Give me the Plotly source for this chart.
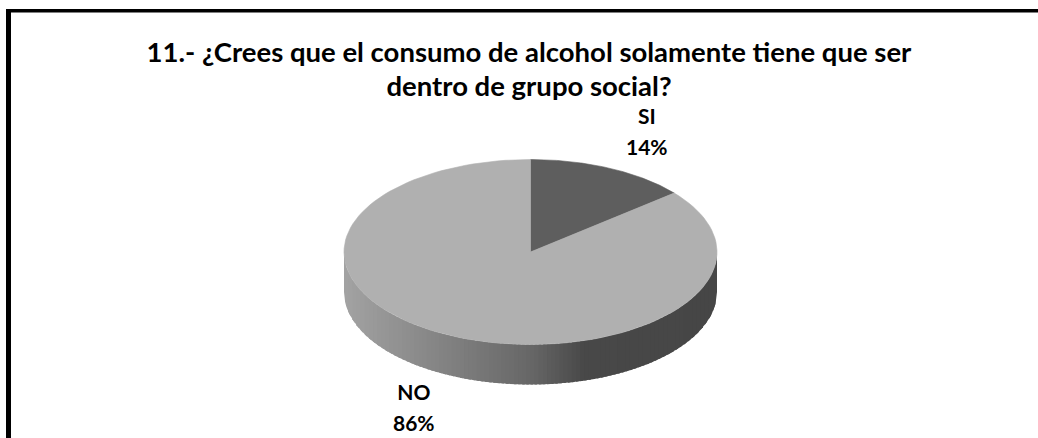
import math
import plotly.graph_objects as go

# ---- data ----
title_lines = ["11.- ¿Crees que el consumo de alcohol solamente tiene que ser", "dentro de grupo social?"]
categories = ["SI", "NO"]
values = [14, 86]
slice_colors = ["#5e5e5e", "#b0b0b0"]

# ---- look ----
W, H = 1038, 438
CX, CY, RX, RY = 530.5, 252.0, 186.5, 92.5   # pixel geometry of the pie's top face
DEPTH = 40 / RY
FONT = "Lato, Carlito, Calibri, sans-serif"
GRAD = [(0.0, 162), (0.5, 102), (0.64, 72), (1.0, 70)]


def grey(t):
    for (a, ca), (b, cb) in zip(GRAD, GRAD[1:]):
        if t <= b:
            v = round(ca + (cb - ca) * (t - a) / (b - a))
            return f"rgb({v},{v},{v})"
    return f"rgb({GRAD[-1][1]},{GRAD[-1][1]},{GRAD[-1][1]})"


def rim(a0, a1, n=120):
    angs = [a0 + (a1 - a0) * i / n for i in range(n + 1)]
    return [math.sin(a) for a in angs], [math.cos(a) for a in angs]


fig = go.Figure()

# side wall, built of narrow strips for the shaded gradient
STRIPS = 90
for i in range(STRIPS):
    x0 = -1 + 2 * i / STRIPS
    x1 = min(1, -1 + 2 * (i + 1.6) / STRIPS)
    xs, ys = [], []
    for k in range(7):
        x = x0 + (x1 - x0) * k / 6
        xs.append(x)
        ys.append(-math.sqrt(max(0, 1 - x * x)))
    px = xs + xs[::-1]
    py = [y for y in ys] + [y - DEPTH for y in ys[::-1]]
    fig.add_trace(go.Scatter(x=px + [px[0]], y=py + [py[0]], mode="lines", fill="toself",
                             fillcolor=grey((x0 + 1) / 2), line=dict(width=0),
                             hoverinfo="skip", showlegend=False))

# top face
total = sum(values)
start = 0.0
for cat, val, col in zip(categories, values, slice_colors):
    end = start + 2 * math.pi * val / total
    xs, ys = rim(start, end)
    fig.add_trace(go.Scatter(x=[0] + xs + [0], y=[0] + ys + [0], mode="lines", fill="toself",
                             fillcolor=col, line=dict(width=0.6, color=col), name=cat,
                             text=f"{cat} {val}%", hoverinfo="text", showlegend=False))
    start = end

# data labels
label_pos = {"SI": (647, 131), "NO": (414, 407)}
annotations = []
for cat, val in zip(categories, values):
    lx, ly = label_pos[cat]
    annotations.append(dict(
        x=(lx - CX) / RX, y=(CY - ly) / RY, xref="x", yref="y", showarrow=False,
        text=f"<b><span style='font-size:21px'>{cat}</span><br><span style='font-size:21px'>{val}%</span></b>",
        font=dict(family=FONT, size=24, color="#000000"), align="center"))

shapes = [
    dict(type="rect", xref="paper", yref="paper", x0=6 / W, x1=11 / W, y0=0, y1=1 - 9 / H,
         fillcolor="#000000", line=dict(width=0), layer="above"),
    dict(type="rect", xref="paper", yref="paper", x0=6 / W, x1=1, y0=1 - 12.5 / H, y1=1 - 9 / H,
         fillcolor="#000000", line=dict(width=0), layer="above"),
]

fig.update_layout(
    width=W, height=H, margin=dict(l=0, r=0, t=0, b=0),
    paper_bgcolor="#ffffff", plot_bgcolor="#ffffff", showlegend=False,
    title=dict(
        text="<b>" + "<br>".join(f"<span style='font-size:27.5px'>{t}</span>" for t in title_lines) + "</b>",
        font=dict(family=FONT, size=26, color="#000000"),
        x=529 / W, xanchor="center", y=1 - 62 / H, yanchor="middle"),
    xaxis=dict(range=[(0 - CX) / RX, (W - CX) / RX], visible=False, fixedrange=True),
    yaxis=dict(range=[(CY - H) / RY, CY / RY], visible=False, fixedrange=True),
    shapes=shapes, annotations=annotations,
)

fig.write_html("out.html", config={"displayModeBar": False},
               post_script="document.body.style.margin='0';document.body.style.overflow='hidden';")
